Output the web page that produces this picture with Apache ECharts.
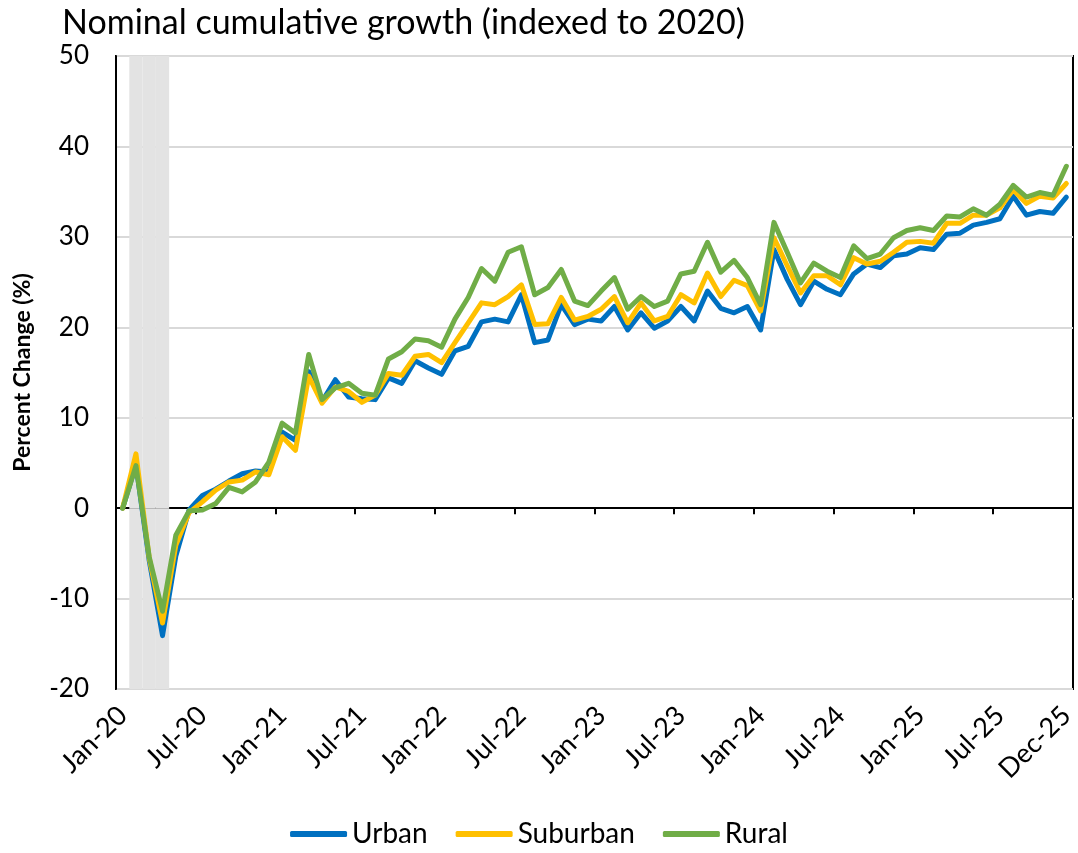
<!DOCTYPE html>
<html>
<head>
<meta charset="utf-8">
<script src="https://cdn.jsdelivr.net/npm/echarts@6.0.0/dist/echarts.min.js"></script>
<style>
  html, body { margin: 0; padding: 0; background: #fff; }
  #chart { width: 1078px; height: 853px; }
</style>
</head>
<body>
<div id="chart"></div>
<script>
// month labels Jan-20 .. Dec-25
var years = ['20', '21', '22', '23', '24', '25'];
var monthNames = ['Jan', 'Feb', 'Mar', 'Apr', 'May', 'Jun', 'Jul', 'Aug', 'Sep', 'Oct', 'Nov', 'Dec'];
var months = [];
years.forEach(function (y) {
  monthNames.forEach(function (m) { months.push(m + '-' + y); });
});

// shaded recession months
var recession = ['Feb-20', 'Mar-20', 'Apr-20'];

// percent change
var urban = [0, 4.8, -5.8, -14.1, -5.3, -0.2, 1.4, 2.1, 3.0, 3.8, 4.1, 4.0,
  8.4, 7.5, 15.1, 11.8, 14.2, 12.3, 12.1, 12.0, 14.4, 13.8, 16.3, 15.5,
  14.8, 17.4, 17.9, 20.6, 20.9, 20.6, 23.6, 18.3, 18.6, 22.5, 20.3, 20.9,
  20.7, 22.3, 19.7, 21.6, 19.9, 20.7, 22.3, 20.7, 24.0, 22.1, 21.6, 22.3,
  19.7, 28.6, 25.3, 22.5, 25.1, 24.2, 23.6, 25.9, 27.0, 26.6, 27.9, 28.1,
  28.8, 28.6, 30.3, 30.4, 31.3, 31.6, 32.0, 34.5, 32.4, 32.8, 32.6, 34.4];
var suburban = [0, 6.0, -5.5, -12.7, -4.1, -0.5, 0.7, 2.0, 2.9, 3.1, 4.0, 3.7,
  7.9, 6.4, 14.6, 11.6, 13.4, 12.9, 11.7, 12.5, 14.9, 14.7, 16.8, 17.0,
  16.1, 18.3, 20.5, 22.7, 22.5, 23.4, 24.7, 20.3, 20.4, 23.3, 20.8, 21.2,
  22.0, 23.4, 20.5, 22.7, 20.7, 21.2, 23.6, 22.7, 26.0, 23.4, 25.2, 24.6,
  21.8, 29.9, 26.8, 23.8, 25.7, 25.7, 24.7, 27.7, 27.0, 27.3, 28.3, 29.4,
  29.5, 29.3, 31.5, 31.5, 32.4, 32.4, 33.2, 35.2, 33.7, 34.5, 34.3, 35.9];
var rural = [0, 4.7, -5.4, -11.4, -3.0, -0.3, -0.2, 0.5, 2.3, 1.8, 2.9, 5.1,
  9.4, 8.3, 17.0, 12.0, 13.3, 13.8, 12.7, 12.5, 16.5, 17.3, 18.7, 18.5,
  17.8, 20.9, 23.3, 26.5, 25.1, 28.3, 28.9, 23.6, 24.4, 26.4, 22.9, 22.4,
  24.0, 25.5, 22.0, 23.4, 22.3, 22.9, 25.9, 26.2, 29.4, 26.1, 27.4, 25.5,
  22.5, 31.6, 28.3, 24.9, 27.1, 26.2, 25.5, 29.0, 27.6, 28.1, 29.9, 30.7,
  31.0, 30.7, 32.3, 32.2, 33.1, 32.4, 33.6, 35.7, 34.4, 34.9, 34.6, 37.8];

var yMin = -20, yMax = 50;
var font = 'Lato';

var bandTop = months.map(function (m) { return recession.indexOf(m) >= 0 ? yMax : null; });
var bandBottom = months.map(function (m) { return recession.indexOf(m) >= 0 ? yMin : null; });

function line(name, data, color) {
  return {
    name: name, type: 'line', data: data, xAxisIndex: 0,
    showSymbol: false, silent: true,
    lineStyle: { color: color, width: 5, cap: 'round', join: 'round' },
    itemStyle: { color: color }
  };
}

var chart = echarts.init(document.getElementById('chart'));
chart.setOption({
  animation: false,
  textStyle: { fontFamily: font },
  title: {
    text: 'Nominal cumulative growth (indexed to 2020)',
    left: 57, top: 1,
    textStyle: { fontFamily: font, fontSize: 34, fontWeight: 'normal', color: '#000' }
  },
  legend: {
    data: ['Urban', 'Suburban', 'Rural'],
    bottom: 0, left: 'center',
    icon: 'roundRect', itemWidth: 57, itemHeight: 6, itemGap: 28,
    textStyle: { fontFamily: font, fontSize: 28, color: '#000' }
  },
  grid: {
    left: 116, right: 3, top: 56, bottom: 164,
    show: true, borderColor: '#000', borderWidth: 2, backgroundColor: '#fff'
  },
  xAxis: [{
    type: 'category', data: months, boundaryGap: true,
    position: 'bottom',
    axisLine: { show: false, onZero: false },
    axisTick: { show: false },
    axisLabel: {
      interval: function (i) { return i % 6 === 0 || i === months.length - 1; },
      rotate: 45, fontSize: 27, color: '#000', margin: 22
    },
    splitLine: { show: false }
  }, {
    type: 'category', data: months, boundaryGap: true,
    position: 'bottom',
    axisLine: { show: true, onZero: true, lineStyle: { color: '#000', width: 2 } },
    axisTick: { show: true, interval: function (i) { return i % 6 === 0; }, length: 6, lineStyle: { color: '#000', width: 2 } },
    axisLabel: { show: false },
    splitLine: { show: false }
  }],
  yAxis: {
    type: 'value', min: yMin, max: yMax, interval: 10,
    name: 'Percent Change (%)', nameLocation: 'middle', nameGap: 82,
    nameTextStyle: { fontFamily: font, fontSize: 23, fontWeight: 'bold', color: '#000' },
    axisLine: { show: true, lineStyle: { color: '#000', width: 2 } },
    axisTick: { show: false },
    axisLabel: { fontSize: 26, color: '#000', margin: 27 },
    splitLine: { lineStyle: { color: '#d9d9d9', width: 2 } }
  },
  series: [
    { name: 'band', type: 'bar', data: bandTop, xAxisIndex: 0, barWidth: '100%', barGap: '-100%',
      silent: true, itemStyle: { color: '#e3e3e3' }, z: 1 },
    { name: 'band2', type: 'bar', data: bandBottom, xAxisIndex: 0, barWidth: '100%', barGap: '-100%',
      silent: true, itemStyle: { color: '#e3e3e3' }, z: 1 },
    line('Urban', urban, '#0070C0'),
    line('Suburban', suburban, '#FFC000'),
    line('Rural', rural, '#70AD47')
  ]
});
</script>
</body>
</html>
